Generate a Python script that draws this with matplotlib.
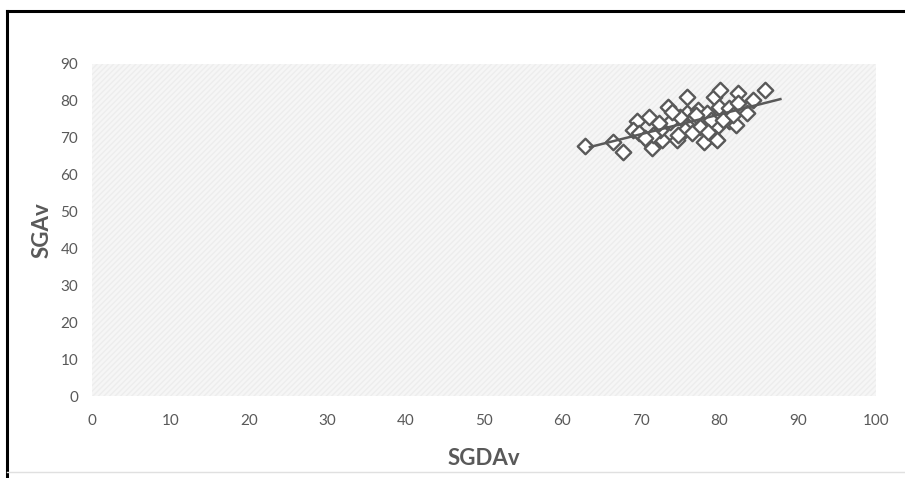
import matplotlib.pyplot as plt
import numpy as np
from matplotlib.lines import Line2D

# SGDAv vs SGAv values
sgdav = [62.9, 66.4, 67.7, 69.5, 71.0, 69.0, 71.2, 71.4, 72.7, 73.5, 73.7, 74.6,
         75.9, 75.9, 75.6, 77.3, 77.6, 78.0, 78.4, 79.3, 80.1, 80.0, 79.7, 79.3,
         81.2, 81.2, 82.4, 82.4, 82.2, 83.5, 84.3, 85.8, 72.5, 69.8, 76.8, 78.9,
         80.5, 75.0, 74.8, 76.5, 78.6, 79.7, 72.3, 71.6, 77.0, 81.8, 74.0, 70.5]
sgav = [67.6, 68.9, 66.2, 74.6, 75.7, 72.1, 68.5, 67.3, 69.4, 78.4, 74.3, 69.4,
        81.1, 76.6, 72.1, 77.5, 73.0, 68.9, 76.6, 81.1, 82.9, 78.4, 73.0, 70.3,
        78.0, 74.5, 82.0, 79.3, 73.4, 76.6, 80.2, 82.9, 72.1, 71.2, 75.7, 74.8,
        74.8, 75.7, 70.7, 71.2, 71.6, 69.4, 73.9, 70.7, 76.0, 76.0, 77.0, 70.0]

x_ticks = list(range(0, 101, 10))
y_ticks = list(range(0, 91, 10))

grey = '#595959'

def main():
    plt.rcParams['font.family'] = ['Lato', 'DejaVu Sans']
    fig = plt.figure(figsize=(9.05, 4.78), dpi=100)
    ax = fig.add_axes([0.1017, 0.1715, 0.8663, 0.695])

    ax.set_facecolor('#f6f6f6')
    ax.add_patch(plt.Rectangle((0, 0), 100, 90, facecolor='none',
                               edgecolor='#ededed', hatch='//////', lw=0, zorder=0))

    ax.scatter(sgdav, sgav, marker='D', s=62, facecolors='white',
               edgecolors=grey, linewidths=1.7, zorder=3)

    # linear trend line
    k, b = np.polyfit(sgdav, sgav, 1)
    xs = np.array([63.5, 87.8])
    ax.plot(xs, k * xs + b, color=grey, lw=1.8, zorder=4)

    ax.set_xlim(0, 100)
    ax.set_ylim(0, 90)
    ax.set_xticks(x_ticks)
    ax.set_yticks(y_ticks)
    ax.tick_params(axis='x', length=0, labelsize=11, labelcolor=grey, pad=13)
    ax.tick_params(axis='y', length=0, labelsize=11, labelcolor=grey, pad=10)
    for s in ax.spines.values():
        s.set_visible(False)

    ax.set_xlabel('SGDAv', fontsize=16, fontweight='bold', color=grey, labelpad=14)
    ax.set_ylabel('SGAv', fontsize=16, fontweight='bold', color=grey, labelpad=6)

    # outer frame
    fig.add_artist(Line2D([0.008, 0.008], [0.0, 0.977], color='black', lw=2.2))
    fig.add_artist(Line2D([0.008, 1.0], [0.977, 0.977], color='black', lw=2.2))
    fig.add_artist(Line2D([0.008, 1.0], [0.012, 0.012], color='#e0e0e0', lw=1))

    fig.savefig('out.png', dpi=100)

if __name__ == "__main__":
    main()
